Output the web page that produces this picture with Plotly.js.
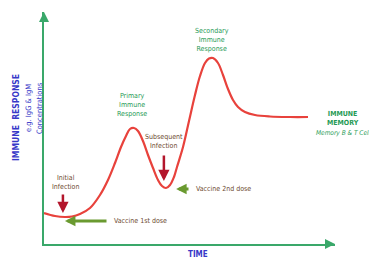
<!DOCTYPE html>
<html>
<head>
<meta charset="utf-8">
<script src="https://cdn.plot.ly/plotly-3.0.1.min.js"></script>
<style>html,body{margin:0;padding:0;background:#fff;}#chart{width:369px;height:259px;}</style>
</head>
<body>
<div id="chart"></div>
<script>
// Time (arbitrary units) and immune response concentration (arbitrary units)
var time = [0, 3.78, 7.22, 9.62, 12.37, 15.81, 19.24, 21.99, 24.40, 26.46, 28.18, 29.55, 30.93, 32.30, 34.02, 35.74, 37.46, 39.18, 40.55, 41.92, 43.30, 44.67, 45.70, 47.77, 49.83, 51.89, 53.61, 55.33, 56.70, 58.08, 59.79, 61.51, 63.23, 64.95, 66.67, 69.07, 72.51, 77.66, 84.54, 90.72];
var response = [13.36, 12.07, 11.64, 11.85, 12.93, 15.52, 21.12, 27.59, 34.91, 41.81, 46.55, 49.57, 50.00, 48.71, 44.40, 38.36, 32.76, 27.59, 25.00, 24.14, 25.43, 28.88, 33.19, 41.81, 53.02, 64.22, 72.41, 78.02, 79.96, 80.17, 78.02, 72.84, 66.81, 62.07, 59.05, 56.90, 55.60, 54.96, 54.74, 54.74];

// events
var infectionTimes = [6.5, 41.2];
var infectionLabels = ["Initial<br>Infection", "Subsequent<br>Infection"];
var vaccineTimes = [7.2, 45.4];
var vaccineLabels = ["Vaccine 1st dose", "Vaccine 2nd dose"];
var responseLabels = ["Primary<br>Immune<br>Response", "Secondary<br>Immune<br>Response"];

var L = 44, R = 335, T = 12, B = 244;
function px2x(p){ return (p - L) / (R - L) * 100; }
function py2y(p){ return (B - p) / (B - T) * 100; }

var FONT = "Liberation Sans Narrow, DejaVu Sans Condensed, Arial Narrow, sans-serif";
var GREEN_AX = "#3aa86a";
var TXT_GREEN = "#1f9a55";
var BLUE = "#3838c8";
var BROWN = "#6e4a30";
var RED_ARROW = "#b3162c";
var OLIVE = "#6a9a30";

var trace = {
  x: time, y: response, mode: "lines", type: "scatter",
  line: {color: "#e8423c", width: 2.2, shape: "spline", smoothing: 1.0},
  hoverinfo: "skip"
};

var ann = [];
function txt(px, py, text, opts){
  opts = opts || {};
  var paper = !!opts.paper;
  ann.push({x: paper ? px2x(px) / 100 : px2x(px), y: paper ? py2y(py) / 100 : py2y(py),
    xref: paper ? "paper" : "x", yref: paper ? "paper" : "y", text: text, showarrow: false,
    xanchor: opts.xanchor || "center", yanchor: "middle", textangle: opts.angle || 0,
    font: {family: FONT, size: opts.size || 7, color: opts.color || BROWN}});
}
// axis arrowheads
ann.push({x: 100, y: 0, xref: "x", yref: "y", ax: -10, ay: 0, text: "", showarrow: true, arrowhead: 2, arrowsize: 1, arrowwidth: 2, arrowcolor: GREEN_AX});
ann.push({x: 0, y: 100, xref: "x", yref: "y", ax: 0, ay: 10, text: "", showarrow: true, arrowhead: 2, arrowsize: 1, arrowwidth: 2, arrowcolor: GREEN_AX});

// infection labels and red arrows
txt(65, 182, infectionLabels[0]);
txt(164, 141, infectionLabels[1]);
ann.push({x: infectionTimes[0], y: py2y(213), ax: infectionTimes[0], ay: py2y(193), xref: "x", yref: "y", axref: "x", ayref: "y", text: "", showarrow: true, arrowhead: 2, arrowsize: 0.9, arrowwidth: 2.5, arrowcolor: RED_ARROW});
ann.push({x: infectionTimes[1], y: py2y(181), ax: infectionTimes[1], ay: py2y(154), xref: "x", yref: "y", axref: "x", ayref: "y", text: "", showarrow: true, arrowhead: 2, arrowsize: 0.9, arrowwidth: 2.5, arrowcolor: RED_ARROW});

// vaccine arrows (pointing left) and labels
ann.push({x: vaccineTimes[0], y: py2y(221), ax: px2x(108), ay: py2y(221), xref: "x", yref: "y", axref: "x", ayref: "y", text: "", showarrow: true, arrowhead: 2, arrowsize: 0.7, arrowwidth: 3, arrowcolor: OLIVE});
ann.push({x: vaccineTimes[1], y: py2y(189), ax: px2x(190), ay: py2y(189), xref: "x", yref: "y", axref: "x", ayref: "y", text: "", showarrow: true, arrowhead: 2, arrowsize: 0.7, arrowwidth: 3, arrowcolor: OLIVE});
txt(112, 221, vaccineLabels[0], {xanchor: "left"});
txt(194, 189, vaccineLabels[1], {xanchor: "left"});

// response labels
txt(132, 105, responseLabels[0], {color: TXT_GREEN});
txt(212, 40, responseLabels[1], {color: TXT_GREEN});
txt(343, 119, "<b>IMMUNE<br>MEMORY</b>", {color: TXT_GREEN, paper: true});
txt(343, 133, "<i>Memory B &amp; T Cell</i>", {color: TXT_GREEN, size: 6.5, paper: true});

// axis titles
txt(16, 117, "<b>IMMUNE &nbsp;RESPONSE</b>", {color: BLUE, size: 8.5, paper: true, angle: -90});
txt(28, 108, "e.g. IgG &amp; IgM", {color: BLUE, size: 7.5, paper: true, angle: -90});
txt(39, 108, "Concentrations", {color: BLUE, size: 7.5, paper: true, angle: -90});
txt(198, 255, "<b>TIME</b>", {color: BLUE, size: 8, paper: true});

var layout = {
  width: 369, height: 259,
  margin: {l: L, r: 369 - R, t: T, b: 259 - B},
  paper_bgcolor: "#fff", plot_bgcolor: "#fff",
  showlegend: false,
  xaxis: {range: [0, 100], showgrid: false, zeroline: false, showticklabels: false, ticks: "", showline: true, linecolor: GREEN_AX, linewidth: 2, fixedrange: true},
  yaxis: {range: [0, 100], showgrid: false, zeroline: false, showticklabels: false, ticks: "", showline: true, linecolor: GREEN_AX, linewidth: 2, fixedrange: true},
  annotations: ann
};
Plotly.newPlot("chart", [trace], layout, {displayModeBar: false, staticPlot: true});
</script>
</body>
</html>
